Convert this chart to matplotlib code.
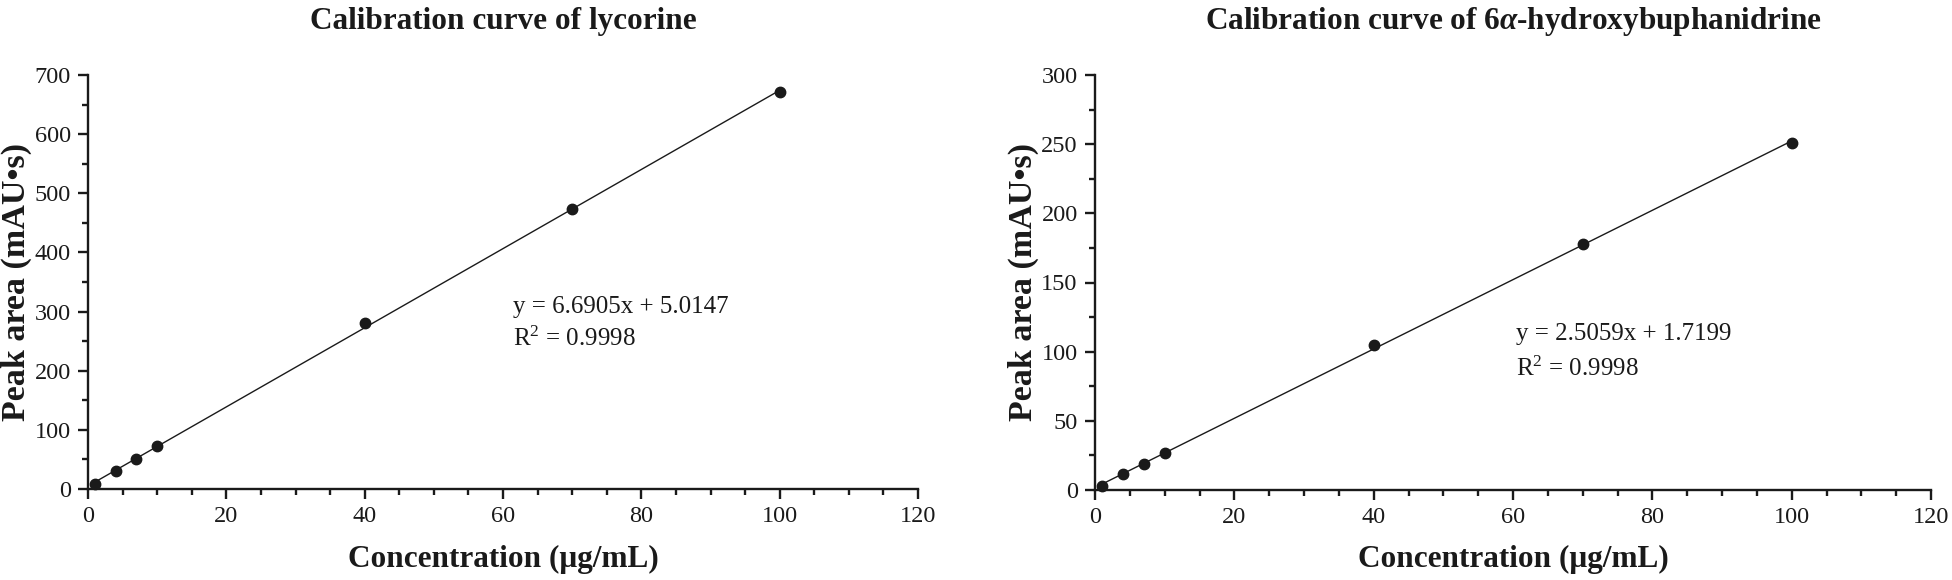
import numpy as np
import matplotlib
matplotlib.use("Agg")
import matplotlib.pyplot as plt
from matplotlib.ticker import MultipleLocator

plt.rcParams['font.family'] = ['Liberation Serif', 'DejaVu Serif']
plt.rcParams['mathtext.fontset'] = 'custom'
plt.rcParams['mathtext.rm'] = 'Liberation Serif'
plt.rcParams['mathtext.it'] = 'Liberation Serif:italic:bold'
plt.rcParams['mathtext.bf'] = 'Liberation Serif:bold'

# ---- data ----
conc = [1, 4, 7, 10, 40, 70, 100]
lycorine_area = [8, 30, 51, 72, 281, 474, 671]
hydroxy_area = [3, 11.5, 19, 27, 104.5, 178, 251]

lycorine_slope, lycorine_intercept = 6.6905, 5.0147
hydroxy_slope, hydroxy_intercept = 2.5059, 1.7199
r2_values = ["0.9998", "0.9998"]

titles = ["Calibration curve of lycorine",
          r"Calibration curve of 6$\alpha$-hydroxybuphanidrine"]
xlabel = "Concentration (μg/mL)"
ylabel = "Peak area (mAU•s)"

W, H = 1952, 580
fig = plt.figure(figsize=(W / 100, H / 100), dpi=100)

panels = [
    dict(rect=(88, 75, 918, 489), y=lycorine_area, slope=lycorine_slope,
         inter=lycorine_intercept, ymax=700, ymaj=100, ymin=50,
         ann=(61.4, 307.7, 253.6), ylab_x=16, title=titles[0], r2=r2_values[0]),
    dict(rect=(1095, 75, 1931, 490), y=hydroxy_area, slope=hydroxy_slope,
         inter=hydroxy_intercept, ymax=300, ymaj=50, ymin=25,
         ann=(60.4, 112.8, 87.5), ylab_x=1023, title=titles[1], r2=r2_values[1]),
]

for p in panels:
    x0, y0, x1, y1 = p['rect']
    ax = fig.add_axes([x0 / W, (H - y1) / H, (x1 - x0) / W, (y1 - y0) / H])
    xs = np.array(conc, dtype=float)
    line_x = np.array([xs.min(), xs.max()])
    ax.plot(line_x, p['slope'] * line_x + p['inter'], color='#1a1a1a', lw=1.0, zorder=2)
    ax.plot(conc, p['y'], 'o', color='#1a1a1a', ms=7.5, zorder=3, clip_on=False)
    ax.set_xlim(0, 120)
    ax.set_ylim(0, p['ymax'])
    ax.xaxis.set_major_locator(MultipleLocator(20))
    ax.xaxis.set_minor_locator(MultipleLocator(5))
    ax.yaxis.set_major_locator(MultipleLocator(p['ymaj']))
    ax.yaxis.set_minor_locator(MultipleLocator(p['ymin']))
    for s in ['top', 'right']:
        ax.spines[s].set_visible(False)
    for s in ['left', 'bottom']:
        ax.spines[s].set_linewidth(1.7)
        ax.spines[s].set_color('#1a1a1a')
    ax.tick_params(which='major', direction='out', length=7.5, width=1.7,
                   labelsize=17.5, colors='#1a1a1a', pad=5)
    ax.tick_params(which='minor', direction='out', length=4.5, width=1.7,
                   colors='#1a1a1a')
    ax.text(p['ann'][0], p['ann'][1], f"y = {p['slope']:.4f}x + {p['inter']:.4f}",
            fontsize=18, va='center', ha='left', color='#1a1a1a')
    ax.text(p['ann'][0], p['ann'][2], r"R$^2$ = " + p['r2'],
            fontsize=18, va='center', ha='left', color='#1a1a1a')
    cx = (x0 + x1) / 2
    fig.text(cx / W, 1 - 21 / H, p['title'], fontsize=22.5, fontweight='bold',
             ha='center', va='center', color='#1a1a1a')
    fig.text(cx / W, 1 - 559 / H, xlabel, fontsize=22.5, fontweight='bold',
             ha='center', va='center', color='#1a1a1a')
    fig.text(p['ylab_x'] / W, 1 - ((y0 + y1) / 2) / H, ylabel, fontsize=24.5,
             fontweight='bold', rotation=90, ha='center', va='center', color='#1a1a1a')

fig.savefig("out.png", dpi=100, facecolor='white')
